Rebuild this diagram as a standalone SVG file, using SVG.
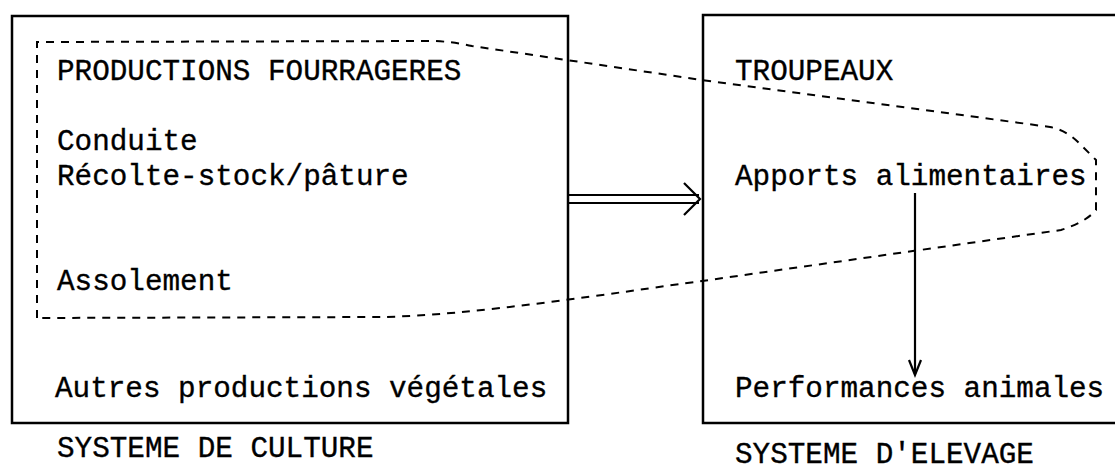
<svg xmlns="http://www.w3.org/2000/svg" width="1115" height="473" viewBox="0 0 1115 473">
<style>
.box{fill:none;stroke:#000;stroke-width:2.5}
.dash{fill:none;stroke:#000;stroke-width:2;stroke-dasharray:8 7}
.ln{fill:none;stroke:#000;stroke-width:2.2}
text{font-family:"Liberation Mono","Courier New",monospace;font-size:29.3px;fill:#000;stroke:#000;stroke-width:0.35}
</style>
<rect width="1115" height="473" fill="#fff"/>
<g id="systeme-culture">
<rect class="box" x="12" y="16" width="556" height="407"/>
<text x="55" y="397">Autres productions végétales</text>
<text x="57" y="457">SYSTEME DE CULTURE</text>
</g>
<g id="systeme-elevage">
<rect class="box" x="703" y="15" width="430" height="408"/>
<text x="735" y="80">TROUPEAUX</text>
<text x="735" y="185">Apports alimentaires</text>
<text x="735" y="397">Performances animales</text>
<text x="735" y="463">SYSTEME D'ELEVAGE</text>
</g>
<g id="productions-fourrageres">
<path class="dash" d="M37,318 L37,42 L435,41 Q455,42 472,46 L702,80 L1050,127 Q1066,130 1079,143 L1096,160 L1096,210 Q1086,222 1061,230 L702,281 C620,292 470,316 380,317 Z"/>
<text x="57" y="80">PRODUCTIONS FOURRAGERES</text>
<text x="57" y="150">Conduite</text>
<text x="57" y="185">Récolte-stock/pâture</text>
<text x="57" y="290">Assolement</text>
</g>
<g id="connectors">
<line class="ln" x1="568" y1="195" x2="699" y2="195"/>
<line class="ln" x1="568" y1="203" x2="699" y2="203"/>
<polyline class="ln" points="684,183 700,199 684,215"/>
<line class="ln" x1="915" y1="193" x2="915" y2="374"/>
<polyline class="ln" points="909,360 915,375 921,360"/>
</g>
</svg>
